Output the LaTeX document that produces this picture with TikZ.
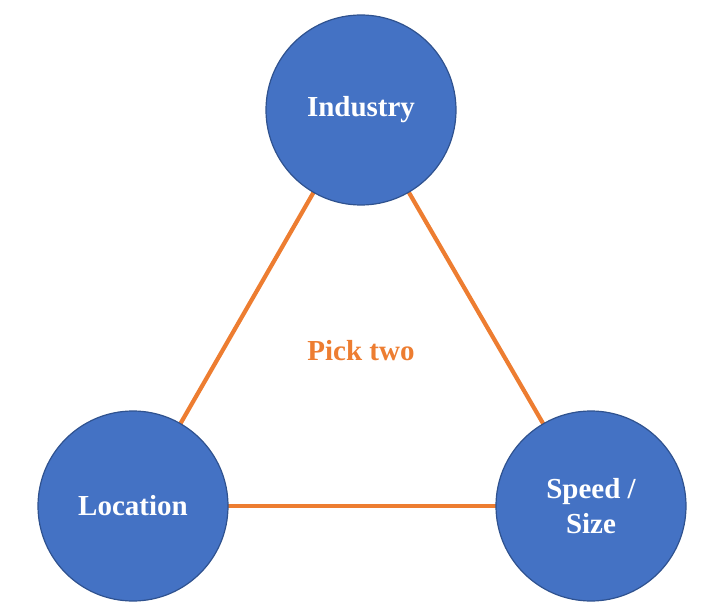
\documentclass[tikz,border=0pt]{standalone}
\usepackage{fontspec}
\setmainfont{Liberation Serif}
\usepackage{xcolor}
\usetikzlibrary{backgrounds}
\definecolor{circblue}{HTML}{4472C4}
\definecolor{circedge}{HTML}{2F528F}
\definecolor{lineorange}{HTML}{ED7D31}

\begin{document}
\begin{tikzpicture}[x=1pt, y=-1pt]
    % Define styles
    \tikzstyle{factor} = [circle, minimum size=190pt, inner sep=0pt, align=center, draw=circedge, line width=1.2pt, fill=circblue, text=white, font=\fontsize{29}{35}\selectfont\bfseries]
    \tikzstyle{link} = [line width=4.2pt, draw=lineorange]

    \useasboundingbox (0,0) rectangle (726,615);

    % Nodes
    \node (industry) [factor] at (361,110) {Industry};
    \node (location) [factor] at (133,506) {Location};
    \node (speed) [factor] at (591,506) {Speed /\\Size};
    \node (pick) [text=lineorange, font=\fontsize{29}{32}\selectfont\bfseries] at (361,351) {Pick two};

    % Lines
    \begin{pgfonlayer}{background}
    \draw [link] (industry.center) -- (location.center);
    \draw [link] (industry.center) -- (speed.center);
    \draw [link] (location.center) -- (speed.center);
    \end{pgfonlayer}
\end{tikzpicture}
\end{document}
